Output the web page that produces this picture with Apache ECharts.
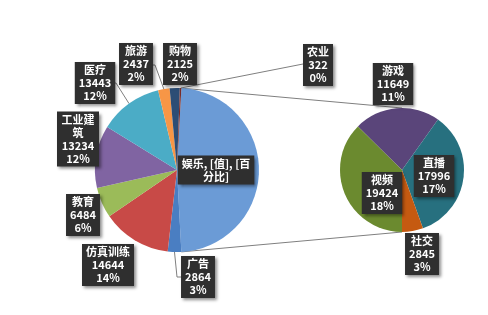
<!DOCTYPE html>
<html>
<head>
<meta charset="utf-8">
<script src="https://cdn.jsdelivr.net/npm/echarts@6/dist/echarts.min.js"></script>
<style>
  html, body { margin: 0; padding: 0; background: #fff; }
  #chart { width: 488px; height: 315px; }
</style>
</head>
<body>
<div id="chart"></div>
<script>
// 主饼图 (娱乐 = 子饼图合计)
var mainNames = ['娱乐', '广告', '仿真训练', '教育', '工业建筑', '医疗', '旅游', '购物', '农业'];
var mainValues = [2864, 14644, 6484, 13234, 13443, 2437, 2125, 322]; // 广告 .. 农业
// 子饼图 (娱乐拆分)
var subNames = ['游戏', '直播', '社交', '视频'];
var subValues = [11649, 17996, 2845, 19424];

var mainColors = ['#6b9bd6', '#4a7ec2', '#c84a47', '#9bbb59', '#8064a2', '#4bacc6', '#f79646', '#2c4d75', '#772c2a'];
var subColors = ['#5a457a', '#27707f', '#c55a11', '#6b8a2f'];

var entValue = subValues.reduce(function (a, b) { return a + b; }, 0);
var allMain = [entValue].concat(mainValues);
var total = allMain.reduce(function (a, b) { return a + b; }, 0);

// 百分比：对所有类别用最大余数法取整（合计 100%）
var leaves = mainValues.concat(subValues);
var pctMap = (function () {
  var raw = leaves.map(function (v) { return v / total * 100; });
  var fl = raw.map(Math.floor);
  var left = 100 - fl.reduce(function (a, b) { return a + b; }, 0);
  var order = raw.map(function (r, i) { return i; })
    .sort(function (a, b) { return (raw[b] - fl[b]) - (raw[a] - fl[a]); });
  for (var k = 0; k < left; k++) fl[order[k]]++;
  var m = {};
  mainNames.slice(1).concat(subNames).forEach(function (n, i) { m[n] = fl[i]; });
  return m;
})();

// 几何
var C1 = [177, 170], R1 = 82;
var C2 = [402, 170], R2 = 62;

var startMain = entValue / total * 180;
var startSub = -90 + 360 * (subValues[0] + subValues[1] + subValues[2]) / entValue;

// 扇区外缘中点
function edgePoint(i) {
  var acc = 0;
  for (var k = 0; k < i; k++) acc += allMain[k];
  var mid = startMain - (acc + allMain[i] / 2) / total * 360;
  var a = mid * Math.PI / 180;
  return [C1[0] + R1 * Math.cos(a), C1[1] - R1 * Math.sin(a)];
}
function rimPoint(c, r, deg) {
  var a = deg * Math.PI / 180;
  return [c[0] + r * Math.cos(a), c[1] - r * Math.sin(a)];
}

// 标签位置
var mainLabelPos = [[216, 170], [198, 277], [108, 265], [83, 215], [78, 139], [95, 83], [136, 64], [180, 64], [318, 65]];
var subLabelPos = [[393, 84], [434, 176], [422, 254], [382, 193]];

var labelStyle = {
  show: true,
  position: 'outside',
  color: '#fff',
  fontSize: 11,
  fontWeight: 'bold',
  fontFamily: 'Noto Sans CJK SC',
  lineHeight: 13,
  align: 'center',
  backgroundColor: '#2f2f2f',
  padding: [2, 4, 1, 4],
  shadowColor: 'rgba(0,0,0,0.45)',
  shadowBlur: 3,
  shadowOffsetX: 2,
  shadowOffsetY: 2,
  formatter: function (p) { return p.name + '\n' + p.value + '\n' + pctMap[p.name] + '%'; }
};

var mainData = allMain.map(function (v, i) {
  var d = { name: mainNames[i], value: v, itemStyle: { color: mainColors[i] } };
  if (mainNames[i] === '娱乐') d.label = { formatter: '娱乐, [值], [百\n分比]' };
  if (mainNames[i] === '工业建筑') d.label = { width: 34, overflow: 'break' };
  return d;
});
var subData = subValues.map(function (v, i) {
  return { name: subNames[i], value: v, itemStyle: { color: subColors[i] } };
});

var lineStyle = { stroke: '#7f7f7f', lineWidth: 1, fill: null };
var entTop = rimPoint(C1, R1, startMain);
var entBot = rimPoint(C1, R1, -startMain);
var guides = [
  [entTop, [C2[0], C2[1] - R2]],
  [entBot, [C2[0], C2[1] + R2]],
  [edgePoint(6), [155, 65], [151, 65]],
  [edgePoint(5), [116, 83], [112, 83]],
  [edgePoint(8), [303, 64]],
  [edgePoint(1), [177, 277], [183, 277]]
];

var chart = echarts.init(document.getElementById('chart'));
chart.setOption({
  animation: false,
  graphic: guides.map(function (pts) {
    return { type: 'polyline', silent: true, z: 0, shape: { points: pts }, style: lineStyle };
  }),
  series: [
    {
      type: 'pie',
      center: C1,
      radius: R1,
      startAngle: startMain,
      clockwise: true,
      avoidLabelOverlap: false,
      label: labelStyle,
      labelLine: { show: false },
      labelLayout: function (p) {
        var pos = mainLabelPos[p.dataIndex];
        return { x: pos[0], y: pos[1], align: 'center', verticalAlign: 'middle' };
      },
      emphasis: { disabled: true },
      data: mainData
    },
    {
      type: 'pie',
      center: C2,
      radius: R2,
      startAngle: startSub,
      clockwise: true,
      avoidLabelOverlap: false,
      label: labelStyle,
      labelLine: { show: false },
      labelLayout: function (p) {
        var pos = subLabelPos[p.dataIndex];
        return { x: pos[0], y: pos[1], align: 'center', verticalAlign: 'middle' };
      },
      emphasis: { disabled: true },
      data: subData
    }
  ]
});
</script>
</body>
</html>
